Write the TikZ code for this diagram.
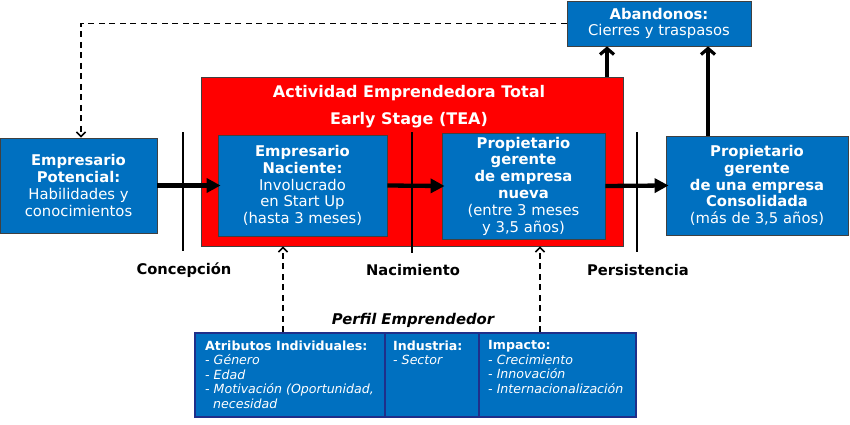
\documentclass[tikz,border=0pt]{standalone}
\usepackage{fontspec}
\setmainfont{DejaVu Sans}
\usetikzlibrary{arrows.meta}
\definecolor{boxblue}{HTML}{0070C0}
\definecolor{navy}{HTML}{1F2F8A}
\definecolor{teared}{HTML}{FF0000}
\begin{document}
\begin{tikzpicture}[x=1pt,y=-1pt,
  bluebox/.style={draw=black!75, line width=0.8pt, fill=boxblue, text=white, align=center, inner sep=0pt,
    font=\fontsize{14.8}{16.8}\selectfont},
  redbox/.style={draw=black!75, line width=0.8pt, fill=teared, inner sep=0pt},
  titletext/.style={text=white, font=\fontsize{16}{18}\selectfont\bfseries, inner sep=0pt},
  stagelabel/.style={font=\fontsize{14.7}{16}\selectfont\bfseries, inner sep=0pt},
  vline/.style={line width=2pt, black},
  bigarrow/.style={line width=4.3pt, -{Triangle[length=14pt,width=14pt]}, shorten >=-3pt},
  uparrow/.style={line width=3.2pt, -{Straight Barb[length=6pt,width=14pt]}},
  dasharrow/.style={line width=1.6pt, dash pattern=on 6pt off 4.5pt, -{Straight Barb[length=4.5pt,width=9pt]}},
  panel/.style={draw=navy, line width=1.6pt, fill=boxblue, inner sep=0pt},
  paneltext/.style={anchor=north west, align=left, text=white, inner sep=0pt,
    font=\fontsize{12.6}{14.5}\selectfont}
]
\useasboundingbox (0,0) rectangle (850,425);

% Abandonos
\node[bluebox, minimum width=184pt, minimum height=45pt] (aband) at (659,23.5)
  {\textbf{Abandonos:}\\Cierres y traspasos};

% red TEA box
\node[redbox, minimum width=422pt, minimum height=169pt] (tea) at (412,161.5) {};
\node[titletext] (tea1) at (409,93) {Actividad Emprendedora Total};
\node[titletext] (tea2) at (409,120) {Early Stage (TEA)};

% blue boxes
\node[bluebox, minimum width=157pt, minimum height=95pt] (pot) at (78.5,185.5)
  {\textbf{Empresario}\\\textbf{Potencial:}\\Habilidades y\\conocimientos};
\node[bluebox, minimum width=169pt, minimum height=101pt] (nac) at (302.5,185.5)
  {\textbf{Empresario}\\\textbf{Naciente:}\\Involucrado\\en Start Up\\(hasta 3 meses)};
\node[bluebox, minimum width=163pt, minimum height=106pt] (nue) at (523.5,186)
  {\textbf{Propietario}\\\textbf{gerente}\\\textbf{de empresa}\\\textbf{nueva}\\(entre 3 meses\\y 3,5 años)};
\node[bluebox, minimum width=182pt, minimum height=99pt] (cons) at (757,185.5)
  {\textbf{Propietario}\\\textbf{gerente}\\\textbf{de una empresa}\\\textbf{Consolidada}\\(más de 3,5 años)};

% vertical stage lines
\draw[vline] (183,132) -- (183,251);
\draw[vline] (412,132) -- (412,253);
\draw[vline] (637,132) -- (637,252);

% horizontal arrows
\draw[bigarrow] (pot.east) -- (nac.west);
\draw[bigarrow] (nac.east) -- (nue.west);
\draw[bigarrow] (nue.east) -- (cons.west);

% up arrows
\coordinate (u1) at (607,0);
\coordinate (u2) at (708,0);
\draw[uparrow] (tea.north -| u1) -- (aband.south -| u1);
\draw[uparrow] (cons.north -| u2) -- (aband.south -| u2);

% dashed feedback
\coordinate (d0) at (81,0);
\draw[dasharrow] (aband.west) -| (pot.north -| d0);

% stage labels
\node[stagelabel] (lc) at (184,270) {Concepción};
\node[stagelabel] (ln) at (413,270) {Nacimiento};
\node[stagelabel] (lp) at (638,270) {Persistencia};

% perfil
\node[font=\fontsize{14.8}{17}\selectfont\bfseries\itshape, inner sep=0pt] (perfil) at (413,320) {Perfil Emprendedor};

% bottom panel
\node[panel, minimum width=190pt, minimum height=84pt] (c1) at (290,375) {};
\node[panel, minimum width=94pt, minimum height=84pt] (c2) at (432,375) {};
\node[panel, minimum width=157pt, minimum height=84pt] (c3) at (557.5,375) {};

\node[paneltext] (t1) at (205,340.5)
  {\textbf{Atributos Individuales:}\\\textit{- Género}\\\textit{- Edad}\\\textit{- Motivación (Oportunidad,}\\\textit{\ \ necesidad}};
\node[paneltext] (t2) at (393,340.5)
  {\textbf{Industria:}\\\textit{- Sector}};
\node[paneltext] (t3) at (488,340.5)
  {\textbf{Impacto:}\\\textit{- Crecimiento}\\\textit{- Innovación}\\\textit{- Internacionalización}};

% dashed up arrows
\coordinate (d1) at (283,0);
\coordinate (d2) at (540,0);
\draw[dasharrow] (c1.north -| d1) -- (tea.south -| d1);
\draw[dasharrow] (c3.north -| d2) -- (tea.south -| d2);
\end{tikzpicture}
\end{document}
